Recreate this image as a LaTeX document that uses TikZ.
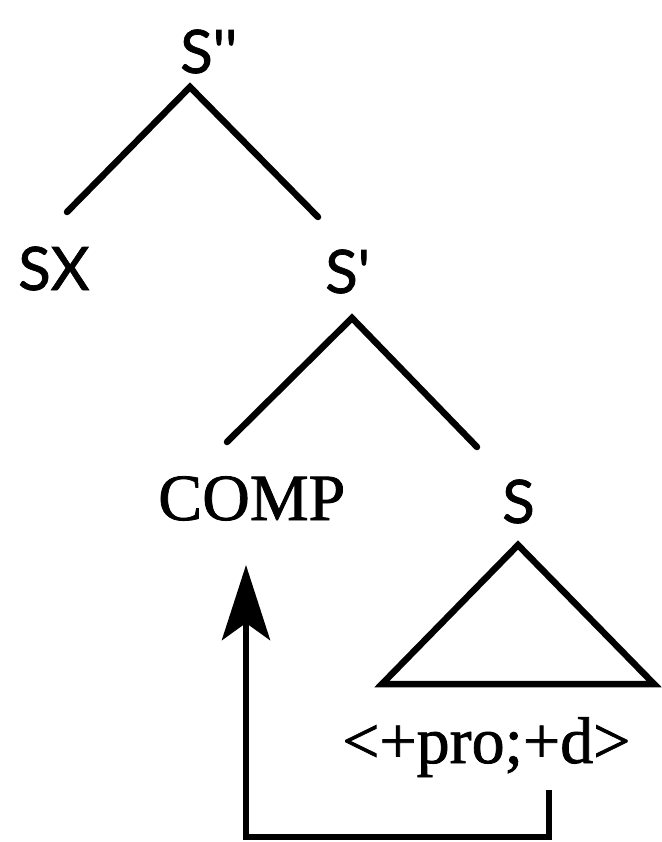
\documentclass[tikz,border=0pt]{standalone}
\usepackage{fontspec}
\newfontfamily\sansfnt{Lato}[UprightFeatures={FakeBold=1.2}]
\newfontfamily\serfont{Liberation Serif}[UprightFeatures={FakeBold=1.2}]
\usetikzlibrary{arrows.meta}
\tikzset{
  lab/.style={inner sep=0pt, anchor=base west, font=\sansfnt\fontsize{60}{72}\selectfont},
  serlab/.style={inner sep=0pt, anchor=base west, font=\serfont\fontsize{66}{72}\selectfont},
  branch/.style={line width=6.5pt, line cap=round, line join=miter},
  movearrow/.style={line width=6.5pt, line join=miter, -{Stealth[length=75pt, width=48pt, inset=17pt]}},
}
\begin{document}
\begin{tikzpicture}[x=1pt, y=-1pt]
\useasboundingbox (0,0) rectangle (661,842);
% labels
\node[lab] (Spp) at (180,73) {S\textquotesingle\textquotesingle};
\node[lab] (SX) at (18,290) {SX};
\node[lab] (Sp) at (325,293) {S\textquotesingle};
\node[serlab] (COMP) at (158,520) {COMP};
\node[lab] (S) at (502,523) {S};
\node[serlab] (feat) at (342,763) {<+pro;+d>};
% branch points
\coordinate (a1) at (190,87);
\coordinate (SXtop) at (67,212);
\coordinate (Sptop) at (318,217);
\coordinate (a2) at (352,318);
\coordinate (COMPtop) at (227,442);
\coordinate (Stop) at (477,447);
\coordinate (ta) at (518,545);
\coordinate (tl) at (382,684);
\coordinate (tr) at (654,684);
\coordinate (mvstart) at (549,790);
\coordinate (mvcorner1) at (549,837);
\coordinate (mvcorner2) at (246,837);
\coordinate (mvend) at (246,565);
% tree
\draw[branch] (SXtop) -- (a1) -- (Sptop);
\draw[branch] (COMPtop) -- (a2) -- (Stop);
\draw[branch, line cap=butt] (ta) -- (tl) -- (tr) -- cycle;
% movement arrow
\draw[movearrow] (mvstart) -- (mvcorner1) -- (mvcorner2) -- (mvend);
\end{tikzpicture}
\end{document}
